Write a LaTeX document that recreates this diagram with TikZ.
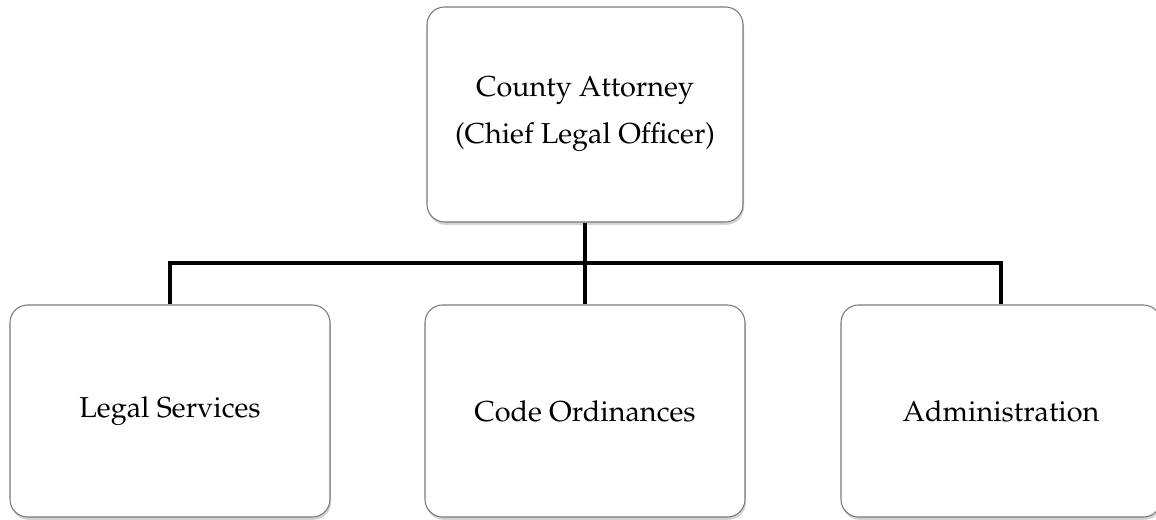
\documentclass[tikz,border=0pt]{standalone}
\usepackage[T1]{fontenc}
\usepackage{mathpazo}
\usepackage{tikz}
\usetikzlibrary{positioning, shadows}
\usepackage{xcolor}
\definecolor{framegray}{RGB}{120,120,120}
\tikzset{
  unit/.style  = {draw=framegray, line width=0.6pt, rounded corners=10pt, fill=white,
                  minimum width=6.4cm, minimum height=4.24cm, align=center,
                  font=\fontsize{16.4}{26.7}\selectfont,
                  drop shadow={shadow xshift=0.6pt, shadow yshift=-1.6pt, opacity=0.35}},
  link/.style  = {line width=2.8pt, black},
}

\begin{document}
\begin{tikzpicture}
\useasboundingbox (0,0) rectangle (23.12,10.4);

\node[unit, minimum width=6.32cm, minimum height=4.3cm] (head) at (11.7,8.11)
  {County Attorney\\(Chief Legal Officer)};

\node[unit] (legal) at (3.4,2.18) {Legal Services};
\node[unit] (code)  at (11.7,2.18) {Code Ordinances};
\node[unit] (admin) at (20.02,2.18) {Administration};

\coordinate (bus) at (11.7,5.14);

\draw[link] (head.south) -- (bus);
\draw[link] (bus) -| (legal.north);
\draw[link] (bus) -- (code.north);
\draw[link] (bus) -| (admin.north);

\end{tikzpicture}
\end{document}
